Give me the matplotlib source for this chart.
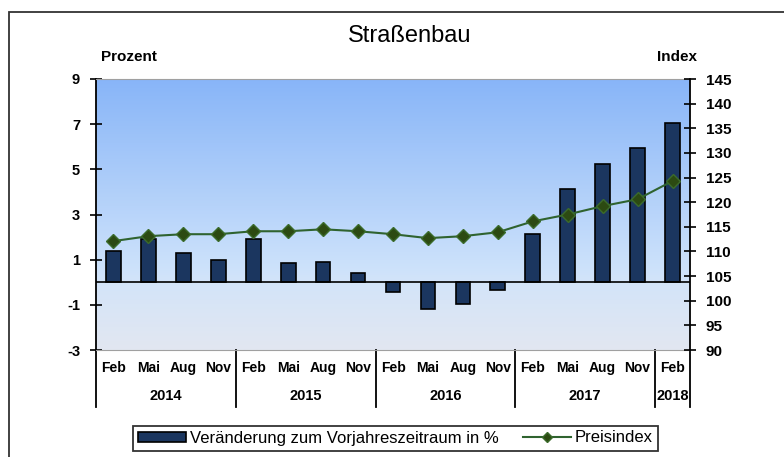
import numpy as np
import matplotlib
matplotlib.use("Agg")
import matplotlib.pyplot as plt
from matplotlib.colors import LinearSegmentedColormap
from matplotlib.patches import Patch, Rectangle
from matplotlib.lines import Line2D

plt.rcParams['font.family'] = ['Liberation Sans', 'DejaVu Sans']
plt.rcParams['axes.unicode_minus'] = False

months = ["Feb", "Mai", "Aug", "Nov"] * 4 + ["Feb"]
years = ["2014", "2015", "2016", "2017", "2018"]
change_pct = [1.4, 1.9, 1.3, 1.0, 1.9, 0.85, 0.9, 0.4,
              -0.45, -1.2, -0.95, -0.35, 2.15, 4.15, 5.25, 5.95, 7.05]
price_index = [112.1, 113.1, 113.5, 113.5, 114.1, 114.1, 114.5, 114.1,
               113.5, 112.7, 113.1, 113.9, 116.1, 117.5, 119.2, 120.6, 124.3]

W, H = 784, 457
fig = plt.figure(figsize=(W / 100, H / 100), dpi=100)

# outer frame of the chart (runs off right and bottom)
fig.add_artist(Rectangle((8.5 / W, -0.1), 2, 1 - 11.7 / H + 0.1,
                         transform=fig.transFigure, fill=False,
                         edgecolor='#333333', lw=1.3))

ax = fig.add_axes([96 / W, 1 - 350 / H, (690 - 96) / W, (350 - 79) / H])
x = np.arange(len(change_pct))
ax.set_xlim(-0.5, len(change_pct) - 0.5)
ax.set_ylim(-3, 9)

# background gradient
cmap = LinearSegmentedColormap.from_list(
    "bg", [(0.0, "#e2e7f1"), (0.25, "#d3e4f9"), (0.3, "#cde2fb"),
           (1.0, "#88b5f8")])
grad = np.linspace(0, 1, 256).reshape(-1, 1)
ax.imshow(grad, cmap=cmap, aspect='auto', origin='lower',
          extent=[-0.5, len(change_pct) - 0.5, -3, 9], zorder=0)

ax.bar(x, change_pct, width=0.42, color='#1b365f', edgecolor='black',
       lw=1.2, zorder=3)
ax.axhline(0, color='black', lw=1.2, zorder=4)

ax.set_yticks(np.arange(-3, 10, 2))
ax.tick_params(axis='y', direction='inout', length=9, width=1.2, pad=7,
               labelsize=10.5)
for t in ax.get_yticklabels():
    t.set_fontweight('bold')
ax.set_xticks([])
ax.spines['top'].set_color('#a0a0a0')
ax.spines['bottom'].set_color('#a0a0a0')
ax.spines['left'].set_linewidth(1.3)
ax.spines['right'].set_visible(False)

ax2 = ax.twinx()
ax2.set_ylim(90, 145)
ax2.set_yticks(np.arange(90, 146, 5))
ax2.plot(x, price_index, color='#2f632f', lw=1.5, marker='D', ms=7.5,
         mfc='#2c4a12', mec='#3b6b2b', mew=1, zorder=5)
ax2.tick_params(axis='y', direction='inout', length=9, width=1.2, pad=7,
                labelsize=11)
for t in ax2.get_yticklabels():
    t.set_fontweight('bold')
for s in ['top', 'bottom', 'left']:
    ax2.spines[s].set_visible(False)
ax2.spines['right'].set_linewidth(1.3)

# category axis: month labels, year labels, separators
trans = ax.get_xaxis_transform()
for i, m in enumerate(months):
    ax.text(i, -0.067, m, transform=trans, ha='center', va='center',
            fontsize=10, fontweight='bold')
for k, yr in enumerate(years):
    n = 4 if k < 4 else 1
    ax.text(4 * k + (n - 1) / 2, -0.169, yr, transform=trans, ha='center',
            va='center', fontsize=10.5, fontweight='bold')
for b in [-0.5, 3.5, 7.5, 11.5, 15.5, 16.5]:
    ax.plot([b, b], [0, -0.21], transform=trans, color='black', lw=1.3,
            clip_on=False)

fig.text(409.5 / W, 1 - 36 / H, "Straßenbau", ha='center', va='center',
         fontsize=17)
fig.text(101 / W, 1 - 57 / H, "Prozent", ha='left', va='center',
         fontsize=11, fontweight='bold')
fig.text(657 / W, 1 - 57 / H, "Index", ha='left', va='center',
         fontsize=11, fontweight='bold')

handles = [Patch(facecolor='#1b365f', edgecolor='black', lw=1.2),
           Line2D([], [], color='#2f632f', lw=1.5, marker='D', ms=5,
                  mfc='#2c4a12', mec='#3b6b2b')]
labels = ["Veränderung zum Vorjahreszeitraum in %", "Preisindex"]
leg = fig.legend(handles, labels, loc='center',
                 bbox_to_anchor=(395.5 / W, 1 - 438 / H), ncol=2,
                 fontsize=12, frameon=True, fancybox=False,
                 edgecolor='black', handlelength=2.9, handleheight=0.55,
                 columnspacing=1.4, handletextpad=0.25, borderpad=0.3)
leg.get_frame().set_linewidth(1.3)

fig.savefig("out.png", dpi=100)
